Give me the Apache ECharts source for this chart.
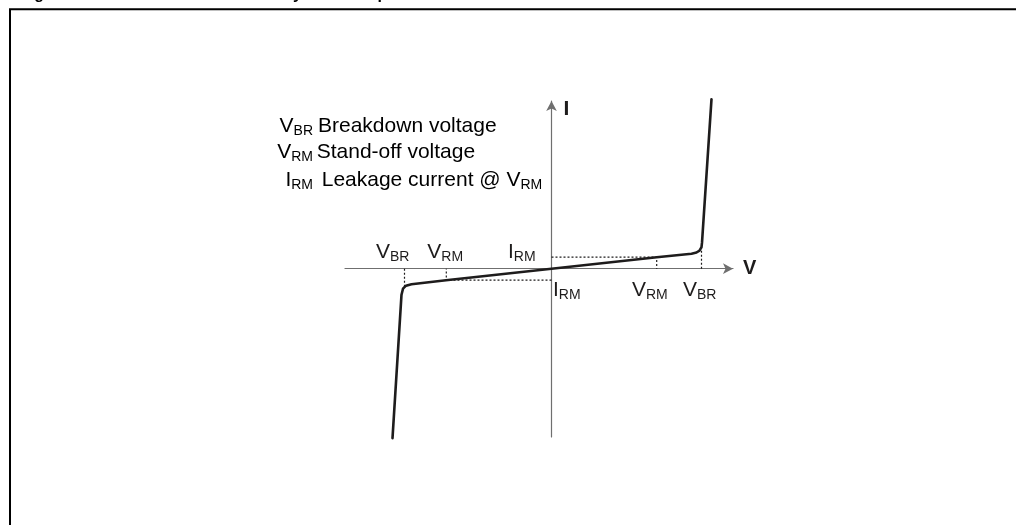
<!DOCTYPE html>
<html>
<head>
<meta charset="utf-8">
<style>
  html, body { margin: 0; padding: 0; background: #fff; }
  #chart { width: 1016px; height: 525px; }
</style>
<script src="https://cdn.jsdelivr.net/npm/echarts@6/dist/echarts.min.js"></script>
</head>
<body>
<div id="chart"></div>
<script>
// characteristic parameters (V in volts, I in arbitrary units)
const V_BR = 15.0;
const V_BR_NEG = -14.7;
const V_RM = 10.52;
const I_RM = 1.15;
const I_BR = 2.15;

// I/V curve of the bidirectional device
const curveV = [-15.9, -15.0, -14.85, -14.55, -14.0, -10.55, 0, 10.52, 14.0, 14.5, 14.8, 15.0, 15.05, 16.0];
const curveI = [-16.95, -2.6, -2.0, -1.7, -1.55, -1.15, 0, 1.15, 1.5, 1.62, 1.8, 2.15, 2.6, 16.95];

// labels put on the axes
const markNames = ['V', 'V', 'I', 'I', 'V', 'V'];
const markSubs = ['BR', 'RM', 'RM', 'RM', 'RM', 'BR'];
const markV = [V_BR_NEG, -V_RM, 0, 0, V_RM, V_BR];
const markI = [0, 0, I_RM, -I_RM, 0, 0];

// legend lines
const legendSymbols = ['V', 'V', 'I'];
const legendSubs = ['BR', 'RM', 'RM'];
const legendTexts = ['Breakdown voltage', 'Stand-off voltage', 'Leakage current @ V'];

const INK = '#1e1c1c';
const FONT = 'Liberation Sans, Arial, Helvetica, sans-serif';

const rich = {
  m: { fontSize: 21, lineHeight: 24, fontFamily: FONT, color: INK },
  s: { fontSize: 14, lineHeight: 14, fontFamily: FONT, color: INK, verticalAlign: 'bottom' }
};

const chart = echarts.init(document.getElementById('chart'));

const curveData = curveV.map((v, i) => [v, curveI[i]]);

// label offsets in px from the marked point
const labelPos = [[-28.5, -28.2], [-19, -28.2], [-43.5, -16.7], [1.5, -1.7], [-24.7, 9.8], [-18.5, 9.8]];

const marks = markV.map((v, i) => ({
  value: [v, markI[i]],
  label: { position: labelPos[i] }
}));

const dashed = { color: INK, width: 1.2, type: [2, 2] };
const guide = (pts) => ({
  type: 'line',
  data: pts,
  symbol: 'none',
  silent: true,
  clip: false,
  lineStyle: dashed
});

const legendTops = [114.5, 140, 168];
const legendLeft = [318, 316.7, 321.7];
const graphics = [
  {
    type: 'rect',
    shape: { x: 10, y: 9.3, width: 1030, height: 540 },
    style: { fill: 'none', stroke: '#000', lineWidth: 2 }
  },
  {
    type: 'text',
    x: 20, y: 2.5,
    style: {
      text: 'Figure 3. Electrical characteristics symbol and parameters',
      font: 'bold 16px ' + FONT,
      fill: '#000',
      verticalAlign: 'bottom'
    }
  }
];
legendSymbols.forEach((s, i) => {
  graphics.push({
    type: 'text', x: 313, y: legendTops[i],
    style: { text: '{m|' + s + '}{s|' + legendSubs[i] + '}', rich, align: 'right', verticalAlign: 'top' }
  });
  const extra = i === 2 ? '{s|RM}' : '';
  graphics.push({
    type: 'text', x: legendLeft[i], y: legendTops[i],
    style: { text: '{m|' + legendTexts[i] + '}' + extra, rich, align: 'left', verticalAlign: 'top' }
  });
});

const option = {
  animation: false,
  backgroundColor: '#fff',
  grid: { left: 345, right: 283, top: 101, bottom: 88 },
  xAxis: {
    type: 'value',
    min: -20.65,
    max: 18.15,
    name: 'V',
    nameLocation: 'end',
    nameGap: 10,
    nameTextStyle: { fontSize: 20, fontWeight: 'bold', color: INK, fontFamily: FONT },
    axisLine: { onZero: true, symbol: ['none', 'arrow'], symbolSize: [8, 10], lineStyle: { color: '#6f6f6f', width: 1.2 } },
    axisTick: { show: false },
    axisLabel: { show: false },
    splitLine: { show: false }
  },
  yAxis: {
    type: 'value',
    min: -16.83,
    max: 16.77,
    name: 'I',
    nameLocation: 'end',
    nameGap: 2,
    nameTextStyle: { fontSize: 21, fontWeight: 'bold', color: INK, fontFamily: FONT, align: 'left', verticalAlign: 'top', padding: [0, 0, 0, 12] },
    axisLine: { onZero: true, symbol: ['none', 'arrow'], symbolSize: [8, 10], lineStyle: { color: '#6f6f6f', width: 1.2 } },
    axisTick: { show: false },
    axisLabel: { show: false },
    splitLine: { show: false }
  },
  graphic: graphics,
  series: [
    guide([[0, I_RM], [V_RM, I_RM], [V_RM, 0]]),
    guide([[0, -I_RM], [-V_RM, -I_RM], [-V_RM, 0]]),
    guide([[V_BR, 0], [V_BR, I_BR]]),
    guide([[V_BR_NEG, 0], [V_BR_NEG, -1.85]]),
    {
      type: 'line',
      data: curveData,
      symbol: 'none',
      clip: false,
      silent: true,
      lineStyle: { color: INK, width: 2.6, join: 'round', cap: 'round' }
    },
    {
      type: 'scatter',
      data: marks,
      symbolSize: 0,
      silent: true,
      itemStyle: { opacity: 1, color: INK },
      label: {
        show: true,
        color: INK,
        opacity: 1,
        align: 'left',
        verticalAlign: 'top',
        formatter: (p) => '{m|' + markNames[p.dataIndex] + '}{s|' + markSubs[p.dataIndex] + '}',
        rich: rich
      }
    }
  ]
};

chart.setOption(option);
</script>
</body>
</html>
